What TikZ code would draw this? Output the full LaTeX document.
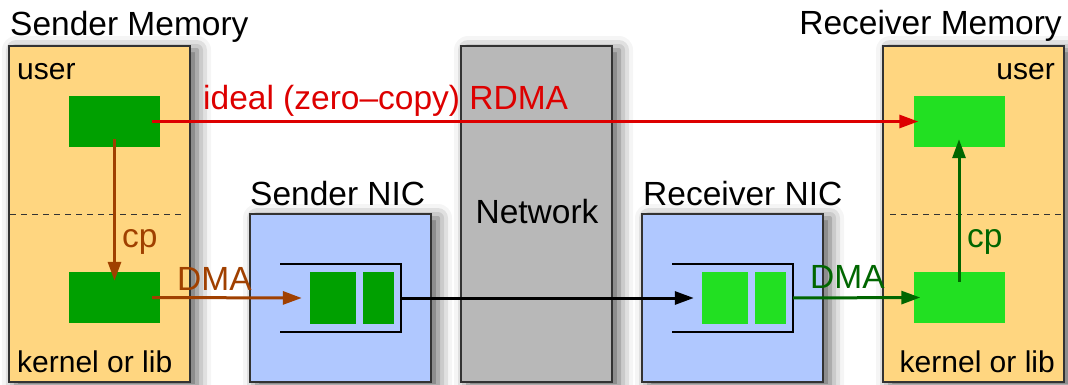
\documentclass[tikz,border=0pt]{standalone}
\usepackage{fontspec}
\setmainfont{Liberation Sans}
\usetikzlibrary{arrows.meta, positioning, shadows.blur}
\definecolor{memfill}{HTML}{FFD680}
\definecolor{nicfill}{HTML}{B0C8FF}
\definecolor{netfill}{HTML}{B8B8B8}
\definecolor{bufdark}{HTML}{00A000}
\definecolor{buflight}{HTML}{22E022}
\definecolor{rdmared}{HTML}{DD0000}
\definecolor{cpbrown}{HTML}{A04000}
\definecolor{rxgreen}{HTML}{006600}
\definecolor{boxink}{HTML}{333333}

\begin{document}
\begin{tikzpicture}[x=1pt, y=-1pt,
        every node/.style={font=\fontsize{33.5}{40}\selectfont},
        block/.style={draw=boxink, line width=1.2pt, inner sep=0pt,
            blur shadow={shadow xshift=7pt, shadow yshift=-4pt, shadow blur radius=14pt, shadow opacity=65}},
        mem/.style={block, fill=memfill, minimum width=181pt, minimum height=336pt},
        nic/.style={block, fill=nicfill, minimum width=181pt, minimum height=168pt},
        net/.style={block, fill=netfill, minimum width=151pt, minimum height=336pt},
        buf/.style={inner sep=0pt, minimum width=91pt, minimum height=51pt},
        slot/.style={inner sep=0pt, minimum height=52pt},
        lbl/.style={inner sep=0pt, anchor=base west},
        small/.style={lbl, font=\fontsize{30}{36}\selectfont},
        flow/.style={line width=3pt, -{Triangle[length=19pt, width=13pt]}},
        queue/.style={line width=1.5pt, black},
        split/.style={line width=1pt, dash pattern=on 6pt off 5pt, boxink}
    ]
        \useasboundingbox (0,0) rectangle (1068,385);

        % boxes
        \node (smem) [mem] at (99.5,214) {};
        \node (snic) [nic] at (340.5,298) {};
        \node (net)  [net] at (536.5,214) {};
        \node (rnic) [nic] at (732.5,298) {};
        \node (rmem) [mem] at (973.5,214) {};

        \node [lbl] at (10,36) {Sender Memory};
        \node [lbl, anchor=base east] at (1062,35) {Receiver Memory};
        \node [lbl] at (250,205) {Sender NIC};
        \node [lbl] at (643,205) {Receiver NIC};
        \node [lbl, anchor=base] at (537,223) {Network};

        % user / kernel split
        \draw [split] (10,214) -- (185,214);
        \draw [split] (890,214) -- (1063,214);
        \node [small] at (17,80) {user};
        \node [small] at (17,372) {kernel or lib};
        \node [small, anchor=base east] at (1055,80) {user};
        \node [small, anchor=base east] at (1055,372) {kernel or lib};

        % buffers
        \node (subuf) [buf, fill=bufdark] at (114.5,121.5) {};
        \node (skbuf) [buf, fill=bufdark] at (114.5,297.5) {};
        \node (rubuf) [buf, fill=buflight] at (959,121.5) {};
        \node (rkbuf) [buf, fill=buflight] at (959,297.5) {};

        % NIC queues
        \draw [queue] (280,264) -- (401,264) -- (401,332) -- (280,332);
        \draw [queue] (672,264) -- (793,264) -- (793,332) -- (672,332);
        \coordinate (sqout) at (401,298);
        \coordinate (rqout) at (793,298);
        \node (sslot1) [slot, fill=bufdark, minimum width=46pt] at (333,298) {};
        \node (sslot2) [slot, fill=bufdark, minimum width=31pt] at (378.5,298) {};
        \node (rslot1) [slot, fill=buflight, minimum width=46pt] at (725,298) {};
        \node (rslot2) [slot, fill=buflight, minimum width=31pt] at (770.5,298) {};

        % transfers
        \draw [flow, rdmared] ([xshift=-8pt]subuf.east) -- ([xshift=5pt]rubuf.west);
        \node [lbl, text=rdmared] at (203,110) {ideal (zero--copy) RDMA};

        \draw [flow, cpbrown] ([yshift=8pt]subuf.south) -- ([yshift=-9pt]skbuf.north);
        \node [lbl, text=cpbrown] at (122,247) {cp};
        \draw [flow, cpbrown] ([xshift=-8pt]skbuf.east) -- ([xshift=-8pt]sslot1.west);
        \node [lbl, text=cpbrown] at (177,290) {DMA};

        \draw [flow, black] (sqout) -- ([xshift=-8pt]rslot1.west);

        \draw [flow, rxgreen] (rqout) -- ([xshift=7pt]rkbuf.west);
        \node [lbl, text=rxgreen] at (810,288) {DMA};
        \draw [flow, rxgreen] ([yshift=-10pt]rkbuf.north) -- ([yshift=8pt]rubuf.south);
        \node [lbl, text=rxgreen] at (967,247) {cp};
    \end{tikzpicture}
\end{document}
